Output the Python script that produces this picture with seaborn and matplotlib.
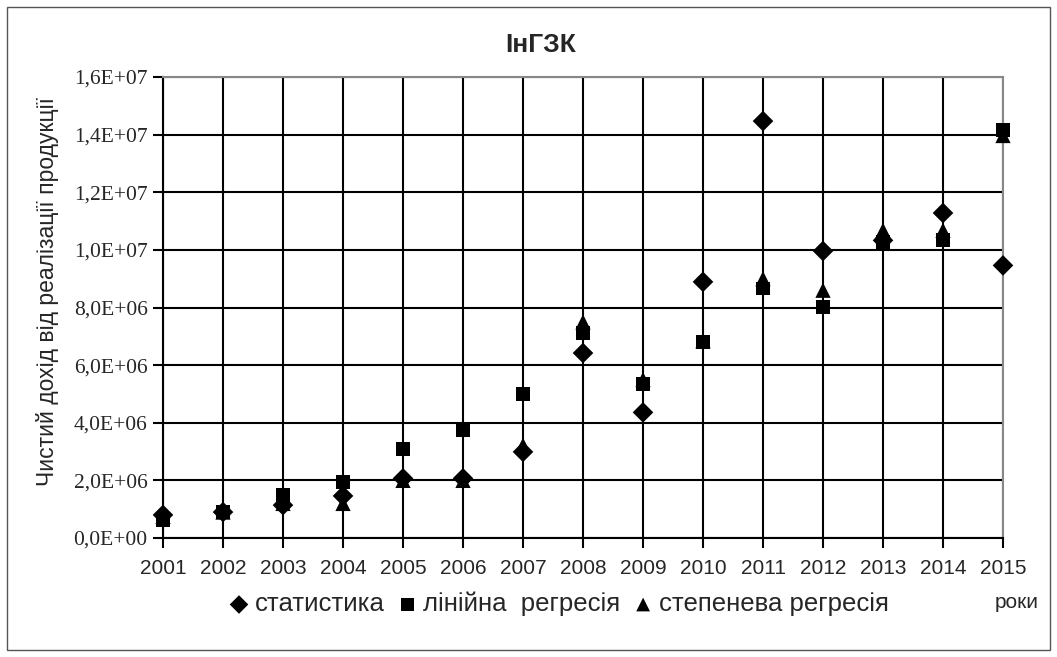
import pandas as pd
import matplotlib
matplotlib.use('Agg')
import matplotlib.pyplot as plt
import seaborn as sns

years = list(range(2001, 2016))
statystyka = [0.80e6, 0.90e6, 1.14e6, 1.46e6, 2.07e6, 2.07e6, 2.99e6, 6.42e6,
              4.36e6, 8.89e6, 14.47e6, 9.96e6, 10.33e6, 11.28e6, 9.46e6]
liniina = [0.62e6, 0.91e6, 1.49e6, 1.95e6, 3.10e6, 3.74e6, 5.00e6, 7.10e6,
           5.36e6, 6.80e6, 8.66e6, 8.02e6, 10.27e6, 10.33e6, 14.15e6]
stepeneva = [0.75e6, 0.90e6, 1.20e6, 1.20e6, 2.00e6, 2.00e6, 3.22e6, 7.50e6,
             5.50e6, 6.85e6, 9.00e6, 8.60e6, 10.68e6, 10.68e6, 13.97e6]
y_ticks = [0, 2e6, 4e6, 6e6, 8e6, 10e6, 12e6, 14e6, 16e6]
y_tick_labels = ['0,0E+00', '2,0E+06', '4,0E+06', '6,0E+06', '8,0E+06',
                 '1,0E+07', '1,2E+07', '1,4E+07', '1,6E+07']

df = pd.DataFrame({'year': years, 'статистика': statystyka,
                   'лінійна  регресія': liniina, 'степенева регресія': stepeneva})
long_df = df.melt(id_vars='year', var_name='series', value_name='value')

sns.set_style('white')
plt.rcParams['font.family'] = ['Liberation Sans', 'DejaVu Sans']

fig = plt.figure(figsize=(10.57, 6.57), dpi=100)
ax = fig.add_axes([163 / 1057, 1 - 538 / 657, 840 / 1057, 461 / 657])

marker_map = {'статистика': 'D', 'лінійна  регресія': 's', 'степенева регресія': '^'}
size_map = {'статистика': 10.5, 'лінійна  регресія': 10, 'степенева регресія': 11}
for name, marker in marker_map.items():
    sub = long_df[long_df['series'] == name]
    sns.scatterplot(x='year', y='value', data=sub, marker=marker, color='black',
                    s=size_map[name] ** 2, edgecolor='none', ax=ax, label=name,
                    clip_on=False, zorder=3, legend=False)

ax.set_xlim(2001, 2015)
ax.set_ylim(0, 16e6)
ax.set_xticks(years)
ax.set_xticklabels([str(y) for y in years], fontsize=15)
ax.set_yticks(y_ticks)
ax.set_yticklabels(y_tick_labels, fontsize=15.5, family='Liberation Serif')
ax.grid(True, color='black', linewidth=1.5)
ax.set_axisbelow(True)
ax.tick_params(axis='both', direction='out', length=7, width=1.5, color='black',
               bottom=True, left=True)
ax.tick_params(axis='x', pad=8)
ax.tick_params(axis='y', pad=4)
for side in ['left', 'bottom']:
    ax.spines[side].set_color('black')
    ax.spines[side].set_linewidth(1.5)
for side in ['top', 'right']:
    ax.spines[side].set_color('#888888')
    ax.spines[side].set_linewidth(1.5)
ax.set_xlabel('')
ax.set_ylabel('')
fig.text(48 / 1057, 1 - 292 / 657, 'Чистий дохід від реалізації продукції',
         fontsize=16.5, rotation=90, ha='center', va='center')

fig.text(541 / 1057, 1 - 45 / 657, 'ІнГЗК', fontsize=19, fontweight='bold',
         ha='center', va='center')
fig.text(1017 / 1057, 1 - 603 / 657, 'роки', fontsize=15, ha='center', va='center')

handles, labels = ax.get_legend_handles_labels()
fig.legend(handles, labels, loc='center', bbox_to_anchor=(556 / 1057, 1 - 604 / 657),
           ncol=3, frameon=False, fontsize=18.5, handletextpad=0.0, columnspacing=0.3,
           handlelength=1.2, markerscale=0.9, borderpad=0)

fig.patches.append(plt.Rectangle((7 / 1057, 1 - 650 / 657), 1043 / 1057, 643 / 657,
                                 transform=fig.transFigure, fill=False,
                                 edgecolor='#555555', linewidth=1))

fig.savefig('out.png', dpi=100)
